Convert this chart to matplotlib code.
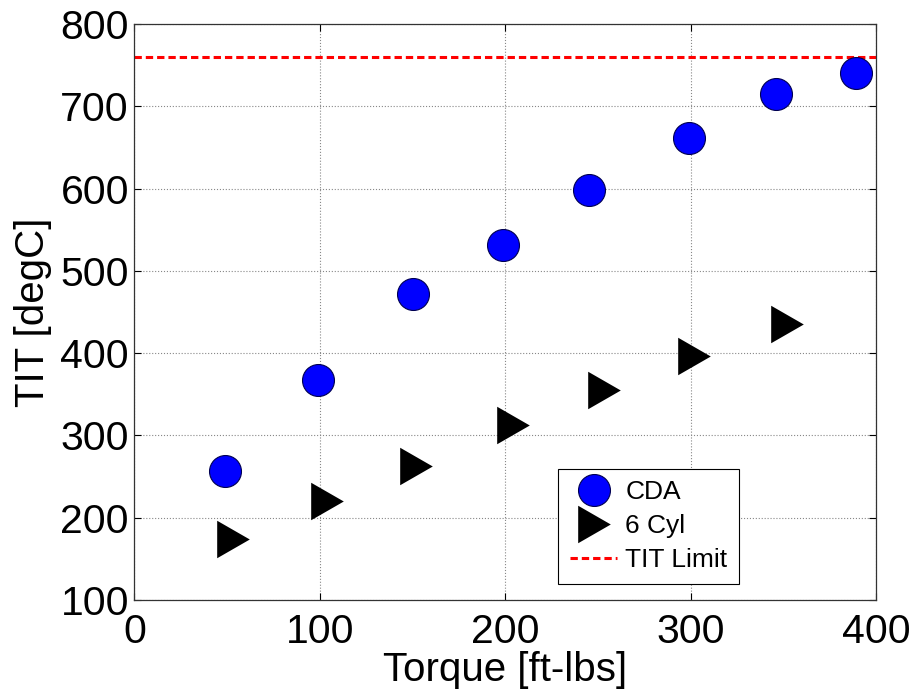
import matplotlib.pyplot as plt
from matplotlib.path import Path

plt.rcParams['font.family'] = ['Liberation Sans', 'DejaVu Sans']

# turbine inlet temperature vs torque
cda_torque = [49, 99, 150, 199, 245, 299, 346, 389]
cda_tit = [257, 367, 472, 532, 598, 662, 715, 740]

cyl_torque = [53, 104, 152, 204, 253, 302, 352]
cyl_tit = [174, 220, 263, 313, 355, 396, 435]

limit_torque = [0, 400]
limit_tit = [760, 760]

# right-pointing triangle, a bit taller than wide
tri = Path([(-0.87, -1.0), (0.87, 0.0), (-0.87, 1.0), (-0.87, -1.0)],
           [Path.MOVETO, Path.LINETO, Path.LINETO, Path.CLOSEPOLY])

fig = plt.figure(figsize=(9.13, 6.9), dpi=100)
ax = fig.add_axes([0.1473, 0.1304, 0.8122, 0.8348])

ax.plot(cda_torque, cda_tit, 'o', ms=23, mfc='#0000ff', mec='#000050',
        mew=0.8, label='CDA', zorder=3)
ax.plot(cyl_torque, cyl_tit, ls='none', marker=tri, ms=27, mfc='black',
        mec='black', mew=0, label='6 Cyl', zorder=3)
ax.plot(limit_torque, limit_tit, color='red', lw=2.2,
        ls=(0, (2.4, 1.3)), label='TIT Limit', zorder=2)

ax.set_xlim(0, 400)
ax.set_ylim(100, 800)
ax.set_xticks([0, 100, 200, 300, 400])
ax.set_yticks(range(100, 801, 100))
ax.tick_params(direction='in', top=True, right=True, labelsize=29.5,
               length=5, width=0.8)
ax.tick_params(axis='x', pad=9)
ax.tick_params(axis='y', pad=4)
ax.grid(True, ls=':', color='#888888', lw=0.8)
for s in ax.spines.values():
    s.set_color('#333333')
    s.set_linewidth(0.9)

ax.set_xlabel('Torque [ft-lbs]', fontsize=29, labelpad=0)
ax.set_ylabel('TIT [degC]', fontsize=29, labelpad=6)

leg = ax.legend(loc='lower left', bbox_to_anchor=(0.571, 0.028),
                fontsize=19, fancybox=False, edgecolor='black',
                framealpha=1, borderpad=0.45, labelspacing=0.37,
                handlelength=1.8, handletextpad=0.3, borderaxespad=0)
leg.get_frame().set_linewidth(0.8)

fig.savefig('out.png', dpi=100)
